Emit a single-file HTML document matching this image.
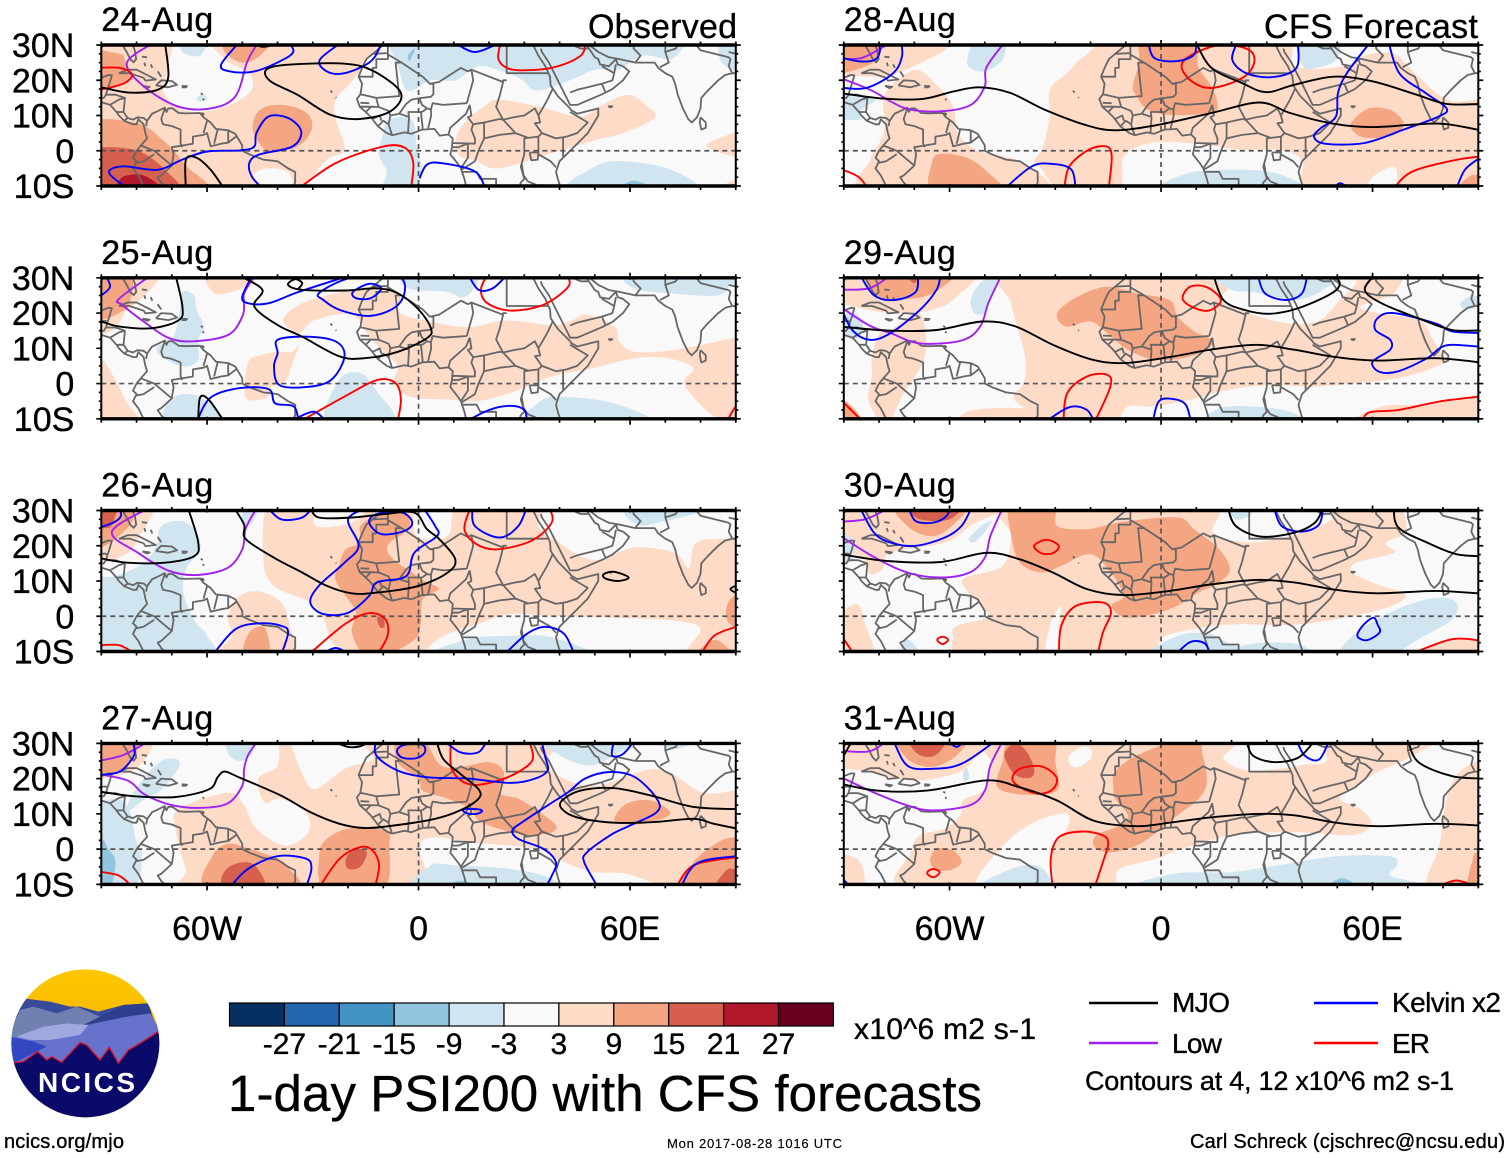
<!DOCTYPE html>
<html lang="en">
<head>
<meta charset="utf-8">
<title>1-day PSI200 with CFS forecasts</title>
<style>
html,body{margin:0;padding:0;background:#fff;}
svg{display:block;font-family:"Liberation Sans",Arial,sans-serif;}
text{stroke:#000;stroke-width:.35px;}
</style>
</head>
<body>
<svg id="chart" xmlns="http://www.w3.org/2000/svg" width="1510" height="1158" viewBox="0 0 1510 1158">
<defs>
<linearGradient id="sky" x1="0" y1="0" x2="0" y2="1"><stop offset="0" stop-color="#ffc800"/><stop offset="1" stop-color="#e8a000"/></linearGradient>
<clipPath id="logo-clip"><circle cx="256" cy="250" r="222"/></clipPath>
</defs>
<g id="panels"></g>

<text x="737" y="38" font-size="34" text-anchor="end" textLength="149">Observed</text>
<text x="1478" y="38" font-size="34" text-anchor="end" textLength="214">CFS Forecast</text>

<g id="colorbar"></g>
<text x="854" y="1039" font-size="30" textLength="182">x10^6 m2 s-1</text>

<text x="228" y="1111" font-size="51" textLength="754">1-day PSI200 with CFS forecasts</text>

<g>
<line x1="1089" y1="1003" x2="1158" y2="1003" stroke="#000" stroke-width="2.4"/>
<text x="1172" y="1012" font-size="28" textLength="58">MJO</text>
<line x1="1314" y1="1003" x2="1378" y2="1003" stroke="#0000ff" stroke-width="2.4"/>
<text x="1392" y="1012" font-size="28" textLength="109">Kelvin x2</text>
<line x1="1089" y1="1043" x2="1158" y2="1043" stroke="#a020f0" stroke-width="2.4"/>
<text x="1172" y="1053" font-size="28" textLength="50">Low</text>
<line x1="1314" y1="1043" x2="1378" y2="1043" stroke="#ff0000" stroke-width="2.4"/>
<text x="1392" y="1053" font-size="28" textLength="38">ER</text>
<text x="1085" y="1090" font-size="27" textLength="369">Contours at 4, 12 x10^6 m2 s-1</text>
</g>

<g transform="translate(0,960) scale(0.33333)">
<g clip-path="url(#logo-clip)">
<rect x="30" y="25" width="450" height="450" fill="url(#sky)"/>
<polygon fill="#3a4a9a" points="70,115 150,125 210,140 240,140 295,155 370,135 440,130 480,220 30,220"/>
<rect x="30" y="205" width="450" height="120" fill="#6672cc"/>
<polygon fill="#7080b0" points="30,235 30,215 60,150 100,140 170,160 230,140 300,170 260,195 200,190 130,200 50,230"/>
<polygon fill="#2f3f90" points="250,195 310,165 370,135 445,130 455,160 330,185"/>
<polygon fill="#6672cc" points="260,195 380,170 450,160 480,210 480,310 50,310 140,260 230,235"/>
<polygon fill="#a0a8e0" points="50,230 130,200 200,190 265,195 240,225 150,240 90,240"/>
<polygon fill="#3348c0" points="30,230 100,245 140,260 60,300 30,315"/>
<polygon fill="#0a0a6a" stroke="#e0102a" stroke-width="4" points="30,310 70,305 113,275 140,300 155,290 185,307 240,248 260,255 300,300 328,262 355,310 385,270 420,250 490,205 490,490 30,490"/>
</g>
</g>
<text x="38" y="1092" font-size="28" font-weight="700" fill="#fff" style="stroke:none" textLength="97">NCICS</text>

<text x="4" y="1148" font-size="20" textLength="120">ncics.org/mjo</text>
<text x="667" y="1148" font-size="13" textLength="175" style="stroke-width:.15px">Mon 2017-08-28 1016 UTC</text>
<text x="1190" y="1148" font-size="20" textLength="315">Carl Schreck (cjschrec@ncsu.edu)</text>
</svg>

<script>
/* Panel dates */
const panelDates = ['24-Aug','25-Aug','26-Aug','27-Aug','28-Aug','29-Aug','30-Aug','31-Aug'];

/* Axis ticks */
const lonMajorTicks = [-60, 0, 60];
const lonMajorLabels = ['60W', '0', '60E'];
const lonMinorTicks = [-90,-80,-70,-50,-40,-30,-20,-10,10,20,30,40,50,70,80,90];
const latMajorTicks = [30, 20, 10, 0, -10];
const latMajorLabels = ['30N', '20N', '10N', '0', '10S'];
const latMinorTicks = [27.5,25,22.5,17.5,15,12.5,7.5,5,2.5,-2.5,-5,-7.5];

/* Colour bar */
const colorbarColors = ['#053061','#2166ac','#4393c3','#92c5de','#d1e5f0','#f9f9f9','#fddbc7','#f4a582','#d6604d','#b2182b','#67001f'];
const colorbarLabels = ['-27','-21','-15','-9','-3','3','9','15','21','27'];

/* Base map, [lon, lat] */
const coastlines = [
 [[-97,28],[-94,29.5],[-90,29.2],[-89,30.3],[-86,30.4],[-84,30],[-82.8,28],[-81.8,26],[-80.8,25.1],[-80.1,26],[-80.5,28.5],[-81.3,30.5]],
 [[-92,18.6],[-90.5,20.5],[-88,21.5],[-87,21.4],[-87.7,19],[-88.2,17.5],[-88.7,15.9],[-86,15.9],[-83.3,15],[-83.6,12],[-83.7,11],[-82.5,9.3],[-81,8.8],[-79.8,9.5],[-78,9.3],[-77,8.5],[-75.6,10.5],[-74.5,11],[-72,12.2],[-71.5,11],[-71,12],[-69.8,12],[-68,10.7],[-66,10.6],[-62,10.7],[-61,9.5],[-59,8],[-57.5,6.2],[-54,5.8],[-52,4.8],[-50,1.5],[-50,0],[-48,-1],[-44,-2.5],[-40,-3],[-37,-5],[-35,-6],[-35,-9],[-36,-11]],
 [[-92,14.5],[-90,13.8],[-87.5,13],[-85.7,11],[-85,10],[-83.5,8.5],[-81,7.5],[-80,7.5],[-79.5,8.9],[-78,7.5],[-77.5,5],[-77,3.5],[-78.8,1.5],[-80,0],[-81,-2],[-80,-3],[-81,-5],[-79.5,-7],[-78,-10],[-77,-12]],
 [[-85,22],[-82.5,23],[-80,23],[-77,21.5],[-74.5,20.2],[-77.5,19.9],[-78,20.7],[-82,22],[-85,22]],
 [[-74.5,18.5],[-73,20],[-70,19.8],[-68.5,18.7],[-71,18],[-74.5,18.5]],
 [[-78.3,18.4],[-76.3,18.1],[-77,17.8],[-78.3,18.4]],
 [[-67.2,18.4],[-65.7,18.3],[-66,18],[-67.2,18]],
 [[-78.5,26.7],[-77,26.5]],[[-77.8,25],[-77.5,24]],[[-76,24.5],[-75.5,23.5]],[[-74,22.5],[-73,21]],
 [[-61.8,16.3],[-61.2,16]],[[-61.2,14.8],[-60.9,14.3]],[[-61.7,10.7],[-61,10.5],[-61,10]],
 [[-10,30],[-13,27.5],[-14.8,26],[-16,23.5],[-17,21],[-16,19],[-16.5,16],[-17.5,14.7],[-16.7,12.5],[-15,11],[-13.5,9.5],[-11.5,6.9],[-9,5],[-7.5,4.4],[-4,5.2],[-2,4.8],[1,6],[4.5,6.2],[6,4.3],[8.5,4.6],[9.7,3.5],[9.5,1],[9,-1],[11,-3.5],[12,-5],[13,-8],[13.5,-10],[14,-12]],
 [[-25,17],[-24.5,16.5]],[[-23.5,15.2],[-23.3,15]],
 [[32.5,31],[32.5,30],[34,27],[36,24],[37.3,21],[37.5,18.5],[39.5,15.5],[43,12],[43.3,11.5],[45,10.5],[51,12],[51,10],[48,5],[45,2],[42,-1],[40,-3],[39,-6],[39.5,-8],[40.5,-11]],
 [[34.7,29],[35,28],[37,25],[39,21],[41,17],[43,13],[45,13],[52,16],[55,17.5],[58,20],[59.8,22.5],[58,24],[56.5,24.5],[56,26],[54,24],[51.5,24.5],[51,26],[50,26.5],[48,29.5],[48.5,30]],
 [[48.5,30],[51,28],[54,26.5],[57,26],[61.5,25],[67,25],[68,23.5],[70,22],[72,21],[72.8,19],[73.5,16],[75,12],[76.5,9],[77.5,8],[79,9.5],[80,12],[80.2,15],[82,17],[85,20],[87,21.5],[89,22],[92,22]],
 [[80,9.5],[81.5,8],[81.5,6.5],[80.2,6],[79.8,8],[80,9.5]],
 [[53.8,12.6],[55,12.6],[54.5,12.3],[53.8,12.6]],
 [[31.5,-.5],[34,-.5],[33.8,-2.5],[32,-2.7],[31.5,-.5]],
 [[29.2,-3.5],[29.8,-7],[31,-8.7]],
 [[34.5,-9.5],[34.8,-12]]
];
const borders = [
 [[-92,18],[-91,17.5],[-89,17.8],[-88.2,17.5]],[[-92,14.5],[-89.3,15],[-88.7,15.9]],[[-87.5,13],[-85,14.5],[-83.3,15]],[[-85.7,11],[-83.7,11]],[[-83.5,8.5],[-82.5,9.3]],
 [[-72,12],[-73,9],[-72.5,7.5],[-70,7],[-67.5,6],[-67.5,2],[-67,1]],
 [[-77,8.5],[-77.3,7]],
 [[-51.5,4.2],[-54,2.3],[-56,2],[-59,1.3],[-60,5],[-61,4.5],[-64,4],[-64,2],[-67,1.5],[-70,1],[-69.5,-1],[-70,-4.2],[-73,-7],[-74,-7.5],[-73,-9],[-72,-10],[-69,-11]],
 [[-60,8.5],[-61,5]],[[-57,6],[-58,2]],[[-54,5.8],[-54,2.3]],
 [[-78.8,1.5],[-75,0],[-70,-4.2]],[[-80,-3.4],[-78,-3],[-75,-1]],
 [[-17,21],[-13,21],[-13,23.5],[-12,23.5],[-12,26],[-8.7,26],[-8.7,27.3],[-4.8,25],[-6.5,25],[-5.5,15.5],[-12,15],[-16.5,16]],
 [[-13,27.5],[-8.7,27.7],[-8.7,29.5]],
 [[-4.8,25],[1.2,21],[3.2,19],[4.2,19],[4.2,16],[3.5,15.3],[1,15],[.2,14.9],[-2,14.5],[-3.5,13.3],[-5.5,10.5],[-8,10],[-8.5,11.3],[-11.3,12.4],[-12,14.8]],
 [[3.2,19],[5.8,19.5],[12,23.5],[14,22.5],[15,23],[15.5,20],[13.7,13.5]],
 [[3.5,11.7],[4,13.5],[7,13],[13.7,13.5]],
 [[2.7,6.3],[3.6,10],[3.5,11.7],[2.4,12],[1,11]],[[1.2,6],[.7,10.9]],[[-3,5],[-2.7,9.5],[-2.9,11],[1,11]],
 [[-5.5,10.5],[-3,9.7]],[[.2,14.9],[1,13],[2.4,12]],
 [[-7.5,4.4],[-8.5,7.5],[-8,10]],[[-11.5,6.9],[-10,8.5],[-8.5,7.5]],[[-13,9],[-11,10],[-10.5,8.5]],[[-15,11],[-13.5,12.5],[-11.3,12.4]],[[-16.7,12.5],[-13.5,12.5]],[[-16.5,13.6],[-14,13.5]],
 [[8.5,4.6],[9,6.5],[13.5,10.5],[14.5,13]],[[14.5,13],[15,10],[14,9.5],[15.5,7.5],[18.6,8],[23,9],[24,8.8]],
 [[24,19.5],[23,15.5],[22,12.5],[22.8,11],[24,8.8]],[[25,31],[25,22],[37,22]],[[15,23],[24,19.5],[24,20],[25,20]],
 [[24,8.8],[27,9.5],[30,10],[33,12],[34,10]],[[36.5,14.3],[34,10],[34.5,8],[33,7.8],[35,5]],[[36.5,14.3],[38,17.5]],
 [[43,11],[48,8],[45,5],[42,4],[39,3.5],[35,5]],[[41,-1.7],[41,4]],[[34,4],[34,1],[34,-1],[37.5,-3],[39,-4.7]],[[35,5],[34,4]],
 [[30,-1],[30,3.5],[34,4]],[[24,8.8],[27.5,5],[31,3.7],[30,3.5]],[[18.6,8],[18.6,3.5],[23,4.5],[27.5,5]],
 [[9.7,2.2],[16,2],[16,3.5],[15,6],[15.5,7.5]],[[9.5,1],[11.3,1],[14,2],[14,-2],[12,-5]],
 [[18.6,3.5],[17,0],[16,-3],[12,-5.5]],[[12.5,-6],[16.5,-6],[17.5,-8],[22,-8],[22,-11]],
 [[30,-1],[29,-4.5],[30,-8],[29,-9],[28,-12]],[[22,-11],[28,-12]],[[31,-8.7],[33,-9.5],[35,-11]],[[40.5,-10.7],[35,-11]],
 [[43,16.5],[45,17.3],[52,19],[55,20],[55.5,22],[52,24]],[[52,19],[53,16.6]],[[39,32],[46,29],[48,29]],[[56,24.5],[55.5,22]],
 [[61,31],[61,29],[63,27],[61.5,25]],[[70,30],[70,28],[71,25],[68.5,23.7]],[[74,31],[73,29],[70,28]],
 [[78,31],[80,28.5],[88,26.5],[88.5,26],[88,24],[89,22]],[[88,28],[92,27]]
];

/* Shaded PSI200 regions: [level, [[lon,lat],...]] */
const aug24Shade = [
 [6,[[-95,32],[-72,32],[-71,24],[-72.5,17],[-67,11.6],[-57.5,11.6],[-48,16.4],[-48,22],[-55,26],[-55.5,32],[-15,32],[-16,24],[-19.5,19],[-23.5,14.5],[-23.5,9],[-21,.3],[-26,-2.5],[-34,-11],[-37,-6],[-43,-5],[-47,-7],[-49,-12],[-95,-12]]],
 [6,[[10.5,3],[13,7.9],[18.6,12.6],[22.7,14.5],[33.6,12.6],[45.8,9.7],[51.3,12.6],[59.4,15.9],[64.9,12.6],[67,9.3],[58,5],[50,3],[37.7,-.7],[22.7,-5],[16,-2.6],[11.8,-1.6]]],
 [6,[[82,2],[91,5.5],[96,5],[96,-2],[91,-2],[84,0]]],
 [6,[[86,-11],[88,-9],[91,-8],[96,-8],[96,-12]]],
 [12,[[-47,6],[-45,11.6],[-38.5,13],[-31.7,10.7],[-30.3,6],[-34.4,1.2],[-42.6,-.2]]],
 [12,[[-54,32],[-55,28],[-50,25],[-45,27],[-42,32]]],
 [12,[[-95,28],[-85,27.5],[-83.4,26],[-82,21],[-87.5,18],[-95,18]]],
 [12,[[-95,7],[-80.6,8],[-72.5,3],[-65.7,-4.5],[-61.6,-11],[-95,-12]]],
 [18,[[-95,-.5],[-80.6,.3],[-71,-6.3],[-69.8,-11],[-95,-12]]],
 [24,[[-84,-7.5],[-78,-7],[-73.5,-11],[-85,-11.5]]],
 [-6,[[-10,32],[-8.6,30],[-5.9,24],[-3,17],[3.7,20],[10.5,20],[17,24],[25.4,22],[29.5,20],[33.6,17],[43,20],[50,23],[56.7,23],[63.5,27],[71.7,26],[75.8,30],[80,32]]],
 [-6,[[85,32],[85,31],[86,25],[92,22],[96,22],[96,32]]],
 [-6,[[-8.6,8.8],[-2,8.8],[-.5,1],[1,-6],[-2,-11],[-10,-11],[-9,-6],[-11.3,-1],[-10,5]]],
 [-6,[[43,-11.5],[50,-4.5],[58,-3],[71.7,-5.4],[78,-11.5]]],
 [-12,[[56.7,-11.5],[61,-8.5],[67.6,-11.5]]],
 [-6,[[-67,32],[-67,28],[-62,27],[-60,32]]],
 [-6,[[-63,15],[-61,16],[-60,14.5],[-62,14]]],
 [-12,[[-3,27],[-1,29],[-2.5,25.5]]]
];
const aug24Mjo = [
 [[-72,31],[-71,21],[-74,17.3],[-82,16.5],[-90,18],[-92,18.5]],
 [[-43.2,23],[-37,24.4],[-21,24.7],[-12.6,22.5],[-5,16.4],[-8,11.2],[-16.7,9],[-25,10.2],[-34.4,15.9],[-42,19.7],[-43.2,23]],
 [[-66,-11],[-66,-2.5],[-63,-2],[-59,-5.4],[-55,-11]],
 [[-47,30.5],[-44,29.5],[-39,30.5]]
];
const aug24Kelvin = [
 [[-82,-11],[-87,-7.3],[-87.5,-5.4],[-83.4,-4.4],[-74,-5.4],[-67,-2.5],[-60,-.2],[-50.7,.1],[-46.6,1.2],[-46,5],[-42.6,9.7],[-37,9.3],[-33.3,5.5],[-35.8,1.2],[-45.3,-1.1],[-48,-3.5],[-47.3,-7.3],[-44,-11]],
 [[-50.7,31],[-56,24.4],[-53.5,22.5],[-46.6,22.5],[-38.5,25.8],[-35.5,28.2],[-37,31]],
 [[-21.5,31],[-28,25.8],[-26,22.5],[-21,22],[-14,25],[-11.3,28.7],[-11,31]],
 [[10.5,30.5],[16,28],[22.7,30.5]],
 [[.3,-7.8],[2.3,-4],[6.4,-3.5],[16,-5.9],[19,-11]]
];
const aug24Low = [
 [[-74.5,31],[-82.7,25],[-78,18.3],[-68.4,12.6],[-59,12],[-52,15.4],[-48.7,25],[-46.6,29],[-45,31]]
];
const aug24Er = [
 [[-92,23.5],[-84.7,23.5],[-81.3,21.6],[-83.4,19.2],[-88,17.8],[-92,17]],
 [[-34.4,-11],[-23.5,-3.5],[-10,1.2],[-3.8,.8],[-1.5,-3.5],[-2.2,-11]],
 [[23.4,31],[22.7,25.8],[26.8,23],[37.7,23.5],[45.8,26.8],[47.5,31]]
];

const aug25Shade = [
 [6,[[-95,32],[-74,32],[-78,24.7],[-82.6,21],[-87,15],[-95,15]]],
 [12,[[-95,32],[-82,32],[-82,22.8],[-85,20],[-90,18],[-95,17]]],
 [6,[[-60,31.5],[-58,25.6],[-53,26],[-48,28],[-46,31.5]]],
 [6,[[-38.4,18],[-33,22.8],[-18.9,26.6],[-9.4,27.5],[-5.3,24.7],[-5.3,20],[3.5,17.6],[14,16],[24.8,17.9],[37.8,16.6],[43.7,18],[47.8,19.5],[55.5,16.2],[57,12],[61.4,9],[73,9.6],[90,13],[96,13],[96,-11],[85,-10],[75.5,-.4],[78,4.4],[70.8,7.2],[61.4,7.2],[49.6,4.4],[37.8,2],[26,-2.7],[16.5,-5],[9.4,-4.6],[-2.4,-3.7],[-7,.1],[-5.9,4.8],[-9.4,8.6],[-14,13.3],[-18.9,19.5],[-29.5,18],[-34,14.3]]],
 [6,[[-49,-4],[-48.4,5.8],[-44.8,8],[-40,9],[-36,9],[-34,11],[-36,5],[-38,.5],[-42,-1],[-43,-4]]],
 [6,[[-95,8],[-90,7],[-86,1],[-83,-5],[-80,-11],[-95,-11]]],
 [-6,[[-67,26],[-63.7,25],[-63,21],[-60.8,16],[-62.5,12.4],[-62.5,6.7],[-66.7,4.8],[-73,7.7],[-74,10.5],[-69.6,13.3],[-67.9,20]]],
 [-6,[[-4,31.5],[-3,27],[8,26],[12,24.5],[15,26],[16,31.5]]],
 [-6,[[61,31.5],[61,27],[73,25.5],[85,25],[89,28],[92,25],[96,25],[96,31.5]]],
 [-6,[[-71.5,-11],[-70,-4],[-62,-3.7],[-56,-11]]],
 [-6,[[-26,-11],[-22.5,1],[-16.5,3],[-12,-2],[-7,-11]]],
 [-6,[[32,-11],[34,-5.5],[40,-3.7],[55.5,-5.6],[65,-11]]]
];
const aug25Mjo = [
 [[-69,31],[-67,21.9],[-68,18],[-75.5,15.7],[-85,16.2],[-90,17.6],[-92,18]],
 [[-50.7,30.5],[-44.3,26.6],[-46.6,21.9],[-40,16.6],[-33,13.3],[-22.4,7.7],[-15.3,7.2],[-5.9,9],[2.4,12.9],[3.5,15.7],[0,21],[-5.9,25.6],[-11.8,27],[-21,26.4],[-33,26.6],[-37,28],[-35,29.6],[-33,28.5],[-34,27]],
 [[-62.5,-11],[-62,-4],[-59.5,-4.6],[-55,-11]]
];
const aug25Kelvin = [
 [[-89,31],[-87.5,27.5],[-90,25]],
 [[-47,31],[-50,24.7],[-48.4,22.8],[-42.5,22.8],[-34,26],[-20,30.5]],
 [[-28.3,25.6],[-21,29.5],[-12,31],[-5,30],[-4,25.6],[-7,21.4],[-14,19.2],[-22.4,20.9],[-27,23.7],[-28.3,25.6]],
 [[-18.6,26],[-14,28.3],[-10.6,27],[-13.6,24.2],[-17.7,24.2],[-18.6,26]],
 [[-40,12.4],[-32,13.3],[-23.6,12],[-21,7.7],[-24.8,1],[-32,-1],[-39.5,-.4],[-41,4.8],[-40,8.6],[-40,12.4]],
 [[-63,-11],[-59,-4],[-50.7,-1.3],[-42.5,-1.6],[-40.7,-5.6],[-35.4,-6.5],[-34,-11]],
 [[-34,-9.5],[-29.5,-8],[-26,-11]],
 [[14,31],[17,26.6],[21,27],[24.8,30.5]],
 [[13,-11],[20,-7.5],[26,-6.3],[30,-7.5],[30.7,-11]]
];
const aug25Low = [
 [[-75.5,31],[-85,24],[-84,22.3],[-78,17.6],[-70.8,12.9],[-63.7,12],[-54,13.8],[-50,19],[-49.5,22.8],[-49.5,25.6],[-46.6,30.5]]
];
const aug25Er = [
 [[-34,-11],[-21,-3.7],[-11.8,1],[-6.5,.1],[-5,-4.6],[-6,-11]],
 [[19.5,31],[17.7,26.6],[19.5,22.8],[26,20.7],[35.4,22.3],[42.5,27.5],[42,31]],
 [[92,-5.5],[90,-6.5],[87.3,-11]]
];

const aug26Shade = [
 [6,[[-42.5,32],[-30.7,32],[-29,25.6],[-19,26.6],[-12,31.5],[-2.4,31.5],[-.6,22.8],[8.3,22.8],[12,32],[34,32],[34,25.6],[39,21.4],[49.6,16],[61.4,19.5],[72.6,18],[76.7,13.8],[79,21],[90,21.9],[96,22],[96,-11],[76.7,-11],[80,-3.7],[73,-1.3],[55.5,-.4],[37.8,.1],[26,.6],[16.5,-2.3],[7,-5.6],[-1.2,-11],[-15,-11.5],[-24,-8],[-27,-.4],[-30.7,3.9],[-41,8.6],[-44,16]]],
 [6,[[-95,32],[-76,32],[-79,23],[-84,17],[-95,16]]],
 [6,[[-54,0],[-50.7,5.8],[-45,7],[-39,3.9],[-36.6,-2.7],[-36.6,-11],[-56.6,-11.5],[-53,-5.6]]],
 [12,[[-22.4,15],[-20.6,19],[-16.5,21],[-16.5,25.6],[-11.8,28.5],[-5,30.5],[-2.4,26.6],[-4,23.7],[-7.5,21.5],[-9,19],[-7,16],[-2,12.5],[2.4,9.6],[5.7,7.7],[1.2,4.8],[.6,-1.8],[-1,-6.5],[-9.4,-11],[-15.3,-11],[-18.9,-4.6],[-17.7,1],[-20,4.8],[-23.6,10.4]]],
 [12,[[90,6],[87.5,3],[87.5,-1],[90,-3],[96,-3],[96,6]]],
 [12,[[79,-11],[83,-7],[86,-7.5],[88.5,-11]]],
 [12,[[-49.5,-11],[-48,-4.6],[-43.7,-3.2],[-42.5,-11]]],
 [12,[[-95,32],[-82,32],[-81,27.5],[-84,23.7],[-89,20],[-95,19]]],
 [18,[[-95,32],[-86,32],[-87,26],[-89,25],[-95,25]]],
 [18,[[-11.8,-.3],[-10,-.5],[-9.7,-3],[-11,-3]]],
 [-6,[[-67,27],[-63,23.7],[-62,19],[-66,13.3],[-66.7,6.7],[-63.7,-1],[-60,-5.6],[-60,-11.5],[-95,-11.5],[-95,9],[-86,11.4],[-78,15],[-74.4,20],[-73,25.6]]],
 [-6,[[-49.5,31.5],[-45.8,30],[-48,25.6],[-50,27.5]]],
 [-6,[[59,31.5],[62,26],[70,27],[81,30],[81,32]]],
 [-6,[[4.7,-11.5],[14,-6.5],[26,-5.6],[37.8,-6],[48,-11.5]]]
];
const aug26Mjo = [
 [[-65.5,31],[-62.5,21],[-63.7,17],[-72,15.2],[-82.6,15.2],[-90,16.4],[-92,17]],
 [[-52.5,31],[-49.5,26],[-49,21.9],[-41,16.6],[-33,12.4],[-26,8.6],[-19,6.5],[-11.8,6.7],[0,8.6],[8.3,12.4],[10.4,16.2],[5.9,21.9],[2.4,24.7],[-1.2,29.4],[-9.4,29],[-19,28],[-28.3,28],[-30.7,31]],
 [[52.5,11.9],[55.5,12.6],[59.6,11],[56.6,10],[53,10.7],[52.5,11.9]],
 [[92,8.8],[90,8.6],[88.5,7.7],[90,6.7],[92,6.5]]
];
const aug26Kelvin = [
 [[-91,25],[-86.5,26.6],[-84.4,28.5],[-85,31]],
 [[-43,31],[-39,27.5],[-33,28],[-30,31]],
 [[-14,26.6],[-11.8,29],[-4.7,29.4],[-1.8,26.6],[-4,24.2],[-10.6,23.3],[-14,26.6]],
 [[-14,31],[-20,27.5],[-17,20],[-21,15.2],[-28.3,8.6],[-30.7,3.9],[-27,.6],[-20,1],[-14,5.8],[-11.8,9.6],[-3.5,11.4],[-1.2,18],[5.3,22.8],[4.7,25.6],[1.2,31]],
 [[-58.4,-11],[-52,-3.7],[-45,-2],[-39,-2.7],[-37,-4.6],[-39,-11]],
 [[-27,-10.5],[-23.5,-9],[-20,-10.5]],
 [[15.3,31],[16,25.6],[23,22.3],[28.3,25.6],[30.7,31]],
 [[24.2,-11],[30.7,-5],[36,-3],[41.3,-5],[44.3,-11]]
];
const aug26Low = [
 [[-76,31],[-87,24],[-79.6,18],[-70.8,12.9],[-62.5,11.7],[-54,13.8],[-50,19],[-49,25],[-46,30.5]]
];
const aug26Er = [
 [[-92,-8.4],[-85,-8.2],[-80,-11]],
 [[-31.3,-11],[-21,-2.3],[-14,.9],[-9.4,-.9],[-8.8,-5.6],[-11.8,-11]],
 [[14.8,31],[13,24.7],[16.5,20.4],[22.4,19],[32,21.4],[37.8,26.6],[37,31]],
 [[80,-11],[83.8,-5.6],[90,-3],[92,-2.5]]
];

const aug27Shade = [
 [6,[[-68,11.4],[-54,16],[-49.5,12.4],[-46,5.8],[-37.8,1],[-31.3,4.8],[-32,10.5],[-39,14.3],[-43.7,13.3],[-45.4,20],[-40,23.7],[-39.5,31.5],[-37,31.5],[-33.6,22.8],[-29.5,17],[-21,22.8],[-13,25.6],[-11.8,31.5],[36.6,31.5],[36,24.7],[41.3,20],[50.7,18],[64,22.3],[71,21.9],[80.7,16],[90,16.6],[96,16],[96,-11.5],[73,-11],[59,-7],[49.6,-6.5],[41.3,-3.7],[33,.1],[14,2],[4.7,3.4],[0,1],[-3,-11.5],[-63,-11.5],[-66,-5.6],[-69,5.8]]],
 [6,[[-95,32],[-76,32],[-80,23],[-90,19.9],[-95,19]]],
 [12,[[-95,32],[-80,32],[-81,26],[-85,22],[-95,22]]],
 [12,[[-6,31.5],[1,31.5],[6,24],[11.8,23.3],[20,24.7],[24.2,21.9],[23,16],[28.3,14.3],[33,11.4],[39,6.7],[36.6,4.4],[28.3,4.4],[17.7,7.7],[14.8,11.4],[8.3,14.3],[1.2,16.6],[0,20],[-6,24.7]]],
 [12,[[55.5,8.6],[59,12.9],[66,13.8],[71.4,10],[63.7,7.2],[57.8,7.2]]],
 [12,[[-28.3,-3.7],[-27,2],[-20,5.8],[-9.4,5.3],[-8.3,1],[-10,-11],[-26,-11],[-28.3,-8]]],
 [12,[[-60,-11],[-58.4,-1.8],[-54,1.5],[-48,.1],[-40,-2.7],[-36.6,-5.6],[-35,-11]]],
 [12,[[75.5,-11],[78,-3.7],[85,2],[90,3.4],[96,3],[96,-11]]],
 [18,[[-20.6,-2.7],[-18,.1],[-14.7,-.9],[-16.5,-5],[-20,-5.6]]],
 [18,[[-56,-8.4],[-53,-4.6],[-47,-4.2],[-43.7,-11],[-54,-11.5]]],
 [18,[[84.8,-11],[87.3,-6],[90,-5.6],[96,-5],[96,-11]]],
 [-6,[[-54.3,31.5],[-53.7,26.6],[-50,25],[-47,27.5],[-46.5,31.5]]],
 [-6,[[-82,14],[-78,20],[-73,25],[-68.5,25.5],[-68.2,22.8],[-73,16.8],[-78,14],[-82,11]]],
 [-6,[[-90,14],[-83,13],[-80,2],[-78.5,-1],[-81,-11],[-95,-11.5],[-95,14]]],
 [-12,[[-90,3],[-88,.1],[-86,-3.7],[-88,-11.5],[-95,-11.5],[-95,3]]],
 [-6,[[36,31.5],[40,26.6],[48.4,23.7],[55.5,26.6],[61.4,31.5]]],
 [-6,[[64,31.5],[73,28.5],[79,31.5]]],
 [-6,[[0,-11.5],[3.5,-4.6],[10.6,-4.6],[26,-5.6],[36.6,-8],[37.8,-11.5]]],
 [-12,[[7,-11.5],[11.8,-9],[19,-11.5]]]
];
const aug27Mjo = [
 [[-92,16],[-90,16.2],[-80.6,15],[-68.8,14.8],[-59.4,17],[-57,20.4],[-55,22],[-51,20.4],[-39,15.2],[-30.7,10.5],[-22.4,7.2],[-15.3,6],[-7,6.7],[4.7,8.6],[11.8,11],[17,14.3],[17,17],[11.8,21.4],[7,25.6],[5,31]],
 [[-24,30.5],[-20,29],[-16.5,29.2],[-14,30.5]],
 [[92,11.3],[78,12],[66,15.2],[55.5,17.3],[46,16.6],[40.7,13.8],[40.7,11.4],[45,9],[55.5,7.5],[67,7.7],[78,8.6],[83.8,7.2],[92,5.5]]
];
const aug27Kelvin = [
 [[-92,21],[-85,21.9],[-81,26],[-80.6,28.4],[-81,31]],
 [[-12,31],[-12,26.6],[-6,22.3],[2.4,20.4],[14,20],[26,18.8],[33,20],[36.6,22.3],[36,26],[34.8,31]],
 [[-6.1,28],[-4,29.6],[1,29.6],[1.8,27.5],[-.6,25.8],[-4.7,26],[-6.1,28]],
 [[7,31],[11.8,27.5],[17,27.5],[19.5,31]],
 [[12.7,11.3],[17,11.3],[18,10.7],[16.3,10],[13.6,10.2],[12.7,11.3]],
 [[55.5,31],[54.9,26.6],[58,27],[61.4,31]],
 [[51,-11],[47,-3.7],[47.8,-.9],[54.3,3.9],[60,6.7],[67.6,10.5],[67.6,14.3],[61.4,20.4],[54.3,21.9],[47.2,20],[42.5,16.2],[36.6,12.4],[29.5,7.7],[26.6,5.3],[28.3,2.9],[35.4,.1],[39,-3.7],[37.8,-7.5],[36,-11]],
 [[-53.7,-11],[-48.4,-5.6],[-40,-2],[-31.9,-2.7],[-30.4,-5.6],[-32,-11]],
 [[74.3,-11],[79,-4],[90,-2],[92,-2]]
];
const aug27Low = [
 [[-92,24.8],[-84,26.6],[-76.7,30.5]],
 [[-92,21.5],[-82.6,19.5],[-78,15.7],[-70.8,12.7],[-62.5,11.7],[-54.3,12.9],[-50,18],[-49.5,22.8],[-48.4,26.6],[-45.8,30.5]]
];
const aug27Er = [
 [[-92,-6.2],[-85,-7.5],[-81,-11]],
 [[-28.3,-11],[-22.4,-2.7],[-16.5,.6],[-13,-.4],[-11.2,-4.6],[-12.4,-11]],
 [[9.2,31],[9.4,22.8],[14,18.5],[21,19],[28.3,21.9],[32.4,25.6],[31.3,31]],
 [[73,-11],[78,-4.6],[90,-2.3],[92,-2]]
];

const aug28Shade = [
 [6,[[-78.7,14.5],[-76,19],[-69.5,23],[-64,19],[-59,12.6],[-57.7,5],[-51.5,-.2],[-40.3,-3],[-34,-11.5],[-83,-11.5],[-82.5,-2.6],[-78.7,5]]],
 [6,[[-95,32],[-60,32],[-60.8,29],[-66.3,25.8],[-76,21.6],[-82.5,21],[-90.5,21.6],[-95,22]]],
 [6,[[-31.6,9.7],[-31.6,17.3],[-26.7,22],[-21.7,26.8],[-10.5,32],[32.9,32],[38,24],[51.5,23.9],[57.7,27],[66,27.5],[72,22],[81,14.5],[90.5,14.5],[96,14.5],[96,-11.5],[45,-11.5],[40,-2.6],[34,.3],[23,.3],[8,2.2],[-3,2.2],[-10.5,-1.6],[-12.4,-11.5],[-28,-11.5],[-34,-5],[-36,-3],[-33.5,1.2]]],
 [0,[[58.9,-11.5],[60,-7.5],[66,-4.5],[67,-9],[66,-11.5]]],
 [12,[[-8,18.3],[-6.2,24.9],[-5,32],[9.3,32],[10.5,24],[14.3,18.3],[16,13.5],[14.3,10.7],[1.9,10.2],[-4.3,12],[-6.8,15.4]]],
 [12,[[-65,-3.5],[-62.6,-.9],[-55,-2],[-49,-6.3],[-46,-11],[-64.5,-11.5]]],
 [12,[[54,7.9],[58.9,12],[65,11.6],[68.8,7.9],[66.3,4.5],[58.9,3.6],[55,5]]],
 [12,[[-95,32],[-80.6,32],[-81,26],[-83.7,24],[-90.5,22],[-95,22]]],
 [12,[[84.3,-11.5],[87.4,-7.3],[90.5,-6.8],[96,-6],[96,-11.5]]],
 [-6,[[-55,25.8],[-52.5,31.5],[-44.6,31.5],[-45,25.8],[-50,22.5],[-54,23.4]]],
 [-6,[[-90.5,16],[-87.4,15.4],[-81,14.5],[-85,11.6],[-86,8.8],[-95,10],[-95,16]]],
 [-6,[[39,31.5],[40.3,24],[44,23.5],[49.6,25.8],[50,31.5]]],
 [-6,[[.6,-11.5],[8,-6.3],[23,-5.4],[34,-6.8],[39,-11.5]]]
];
const aug28Mjo = [
 [[-92,16.5],[-78.7,14.8],[-67.6,14.7],[-59,16.8],[-51.5,18],[-42.8,16.4],[-32.9,11.6],[-21.7,7.4],[-13,5.8],[-.6,7.4],[14.3,10.7],[27.9,13.7],[36.6,10.7],[47.7,7.9],[60,6.7],[78.7,7.7],[92,5.5]],
 [[10,30.5],[14.3,23.5],[23,19.2],[29.8,16.6],[37.8,18.7],[49,21],[60,19.7],[72.5,15.9],[81,13.3],[92,13.3]]
];
const aug28Kelvin = [
 [[-92,26.8],[-86,25.4],[-81.2,25.8],[-79.7,28.7],[-80.6,31]],
 [[-92,18],[-83.7,17.8],[-76,22],[-73.5,26.8],[-73.8,31]],
 [[-3.7,31],[-1.9,26.3],[4.3,25.4],[9.3,27.2],[10,31]],
 [[21.7,31],[20.2,25.8],[24.2,22],[31.6,20.9],[38.4,23.5],[38.8,31]],
 [[59.5,31],[52.7,22],[50.2,16.4],[49.6,9.7],[45.3,6.4],[43.4,4],[46.5,2],[57.7,2.2],[68.8,6],[78.7,9.7],[81,12],[75,16.4],[67.6,22],[64.5,31]],
 [[-44.6,-11],[-36.6,-4.4],[-30.4,-3.8],[-25.4,-5.4],[-24.2,-11]],
 [[83.7,-11],[86.2,-5.4],[90.5,-2],[92,-1.5]],
 [[49,-10.5],[50.8,-9.2],[53.3,-10.5]]
];
const aug28Low = [
 [[-92,26.3],[-85,26.3],[-77,30.5]],
 [[-92,21],[-82.5,17.3],[-72.5,12],[-62.6,11.2],[-54,13],[-50,18.3],[-49.6,23.5],[-44.6,30.5]]
];
const aug28Er = [
 [[-92,-4.8],[-86,-7.3],[-83,-11]],
 [[-27.5,-11],[-26,-4.4],[-20.5,.3],[-15.5,1.2],[-14,-1.6],[-14.9,-11]],
 [[5.8,24],[8.7,27.2],[16.7,30],[24.8,28.7],[26.4,24.9],[23,20.6],[14.3,17.8],[8.7,19.7],[5.8,24]],
 [[65.7,-11],[71.3,-5.9],[83.7,-2.6],[92,-1.5]]
];

const aug29Shade = [
 [6,[[-42.5,32],[17,32],[17,23.7],[24.8,20],[36.6,17],[45,18],[50.7,23.7],[55,28],[56.6,32],[68,32],[66,25.6],[56.6,21.9],[61.4,20],[73,18],[76.7,13.3],[80,6.7],[78,4.8],[67,1.5],[49.6,-.4],[41.3,-.9],[32,-.4],[19,-1.8],[8.3,-4.6],[-2.4,-6.5],[-9.4,-6.5],[-14,-11.5],[-28.3,-11.5],[-41.3,-5],[-39,.1],[-38.4,3.9],[-39,9.6],[-42.5,22.8]]],
 [6,[[-95,32],[-55,32],[-58,24.7],[-65,20.9],[-77,20],[-90,22.3],[-95,22]]],
 [6,[[-80,14],[-76.7,15.2],[-68.4,20],[-67,7.7],[-73,-2.7],[-78,-11.5],[-83,-5],[-82,2],[-82,8]]],
 [6,[[-56,-8.4],[-48.4,-7],[-36.6,-7.5],[-33,-11.5],[-54,-11.5]]],
 [6,[[56.6,-11.5],[62.5,-6.5],[73,-6],[85,-4.2],[90,-3.7],[96,-3],[96,-11.5]]],
 [12,[[-29.5,20],[-23.6,24.7],[-15.3,27.5],[-7,25.6],[2.4,23.7],[4.7,19],[9.4,14.8],[14.8,11.9],[9.4,8],[-1.2,6.7],[-9.4,9.6],[-15.3,14.3],[-20,17.6],[-27,16.2]]],
 [12,[[-82.6,32],[-80,24.7],[-69.6,24.2],[-62.5,27],[-59.6,32]]],
 [18,[[-72.6,31.5],[-70,28.5],[-68.6,31.5]]],
 [12,[[-90,-4.6],[-85,-11],[-95,-11.5],[-95,-4.6]]],
 [-6,[[-53,20],[-54,23.7],[-51.3,28.5],[-45.4,31.5],[-48.4,24.7],[-50,20]]],
 [-6,[[16.5,31.5],[20,26.6],[26,26],[32,24.7],[39,23.7],[46,26.6],[49.6,31.5]]],
 [-6,[[85,23],[88.5,25],[90,24],[89,21.5],[86,21]]],
 [-6,[[-95,18],[-87,20],[-84.5,16],[-86.7,12.4],[-90,13.3],[-95,13]]],
 [-6,[[13.6,-11.5],[16.5,-7],[26,-6.5],[36.6,-8],[39.5,-11.5]]]
];
const aug29Mjo = [
 [[-92,16.2],[-76.7,15],[-63.7,15.2],[-50.7,17.6],[-41.3,16.2],[-30.7,11],[-20,6.9],[-10.6,5.8],[2.4,7.5],[14,9.6],[27,11],[37.8,9.6],[49.6,7.5],[61.4,6.5],[78,7.2],[92,5.8]],
 [[14.8,31],[17.7,23.7],[23.6,20.9],[30.7,19.8],[39,21.4],[48.4,25.6],[50.7,28.5],[48.4,31]],
 [[60.8,31],[57.8,26.6],[62.5,22.8],[73,18.5],[82.6,15.2],[92,15.2]]
];
const aug29Kelvin = [
 [[-85.5,31],[-81.4,25],[-75.5,23.7],[-69.6,26],[-69,31]],
 [[-91,22],[-87.6,15.2],[-82.6,12.4],[-76.7,14.3],[-68.4,20.9],[-63.7,26.6],[-62.5,31]],
 [[27.4,31],[29.5,25.6],[35.4,23.7],[40,25.6],[41.5,31]],
 [[92,14.3],[82.6,14.8],[78,17],[66,20],[61.4,18.5],[60.8,15.2],[65,12.4],[65,9.6],[60,6.2],[61.8,3.4],[67,3.4],[75.5,7.2],[79,10],[82.6,11],[92,10.3]],
 [[-33,-11],[-26,-6.7],[-21,-7.5],[-19,-11]],
 [[-2.4,-11],[-.6,-5],[3.5,-4.4],[7,-6],[8.5,-11]]
];
const aug29Low = [
 [[-92,26.7],[-83,27],[-77,30.5]],
 [[-92,22.5],[-83,16.6],[-76.7,14.3],[-68.4,11.4],[-56.6,12.2],[-51.3,16.2],[-49,22.8],[-45.4,30.5]]
];
const aug29Er = [
 [[-92,-3.5],[-84.4,-11]],
 [[-27.7,-11],[-26.6,-2.7],[-21,2],[-15.3,2.5],[-14.4,-.9],[-18.9,-11]],
 [[6.1,24.2],[8.3,27.5],[13,27.3],[17,23.7],[13.6,20.7],[8.9,21.7],[6.1,24.2]],
 [[57.2,-11],[59,-8.2],[67.3,-7.5],[79,-5.1],[92,-3.5]]
];

const aug30Shade = [
 [6,[[-42.5,32],[12,32],[14.8,23.7],[24,21],[33,21.9],[41.3,24.2],[48.4,27.5],[49.6,32],[66,32],[69.6,24.2],[63.7,20.9],[66,18],[55.5,15.2],[54.3,12.4],[61.4,9],[68.4,6.7],[68.4,4.4],[59,1],[39,-2.3],[21,-2.3],[11.8,-3.2],[1.2,-5.6],[-8,-11.5],[-54,-11.5],[-59,-5.6],[-57.8,-2.7],[-49.6,-.4],[-50.7,2.9],[-55.5,7.7],[-55.5,11],[-45,14.3],[-42.5,22.8]]],
 [0,[[-33,-11.5],[-31.3,-1.8],[-28.3,2.9],[-29,-2.7],[-29.5,-11.5]]],
 [6,[[-95,32],[-46,32],[-54.3,25.6],[-61.4,20.9],[-76.7,18],[-79,13.3],[-82.6,12],[-84,16.2],[-90,18],[-95,18]]],
 [6,[[-90,2],[-86,3.4],[-84,-2],[-82,-11.5],[-95,-11.5],[-95,2]]],
 [6,[[70.8,-11.5],[79,-7.5],[88.5,-6.5],[90,-11.5]]],
 [12,[[-42.5,32],[-30.7,32],[-29.5,25.6],[-21,24.7],[-16.5,25.6],[-9.4,27],[4.7,28],[9.4,24.7],[16.5,19],[19.5,13.3],[16.5,9.6],[10.6,6.7],[2.4,2],[-9.4,-.4],[-14,3],[-10.6,6.2],[-16.5,15.2],[-21,17.6],[-28.3,14.3],[-34,12.4],[-40,15.2],[-42.5,22.8]]],
 [12,[[-75,32],[-72,25.6],[-65,22.7],[-59,26],[-55.5,32]]],
 [18,[[-71.5,32],[-69.6,28],[-63.7,27],[-59,28],[-57,32]]],
 [-6,[[-51,25.6],[-48,27],[-50,24],[-53,21],[-54.5,22]]],
 [-6,[[-90,23.7],[-87,20.9],[-87.6,16],[-90,15],[-95,15],[-95,23]]],
 [-6,[[19.5,31.5],[21,27.5],[25,28.5],[26,31.5]]],
 [-6,[[50.6,-11.5],[55.5,-4.6],[67,2],[78,5.3],[83.8,3.9],[82.6,-.9],[73,-6.5],[63.7,-11.5]]],
 [-6,[[-1.2,-11.5],[4.7,-5.6],[14,-5],[21,-8.4],[28.3,-7.5],[39,-8],[40,-11.5]]],
 [-6,[[-74,-11.5],[-72,-6.5],[-68,-11.5]]]
];
const aug30Mjo = [
 [[-92,17.8],[-78,15.7],[-62.5,15.4],[-49.6,18],[-40.3,16.2],[-30.7,12.4],[-21,7.7],[-10.6,6],[2.4,7.2],[14,9],[27,10.3],[37.8,9.6],[49.6,7.5],[61.4,6.5],[78,7.2],[92,6.3]],
 [[18.9,31],[21.2,25.6],[28.3,22.6],[37.8,23.7],[43.7,26.6],[46,31]],
 [[66,31],[67.3,25.2],[75.5,20.9],[83.8,17.6],[92,17]]
];
const aug30Kelvin = [
 [[-85.5,31],[-81.4,23.7],[-76.7,20.9],[-69.6,20],[-61.4,22.3],[-56.6,25.6],[-53.7,31]],
 [[-71.7,31],[-69.6,27],[-64.4,26.6],[-60.8,28.5],[-60,31]],
 [[32,31],[34.2,25.6],[40,24],[44.8,26],[46,31]],
 [[60.2,-.4],[61.4,-2.3],[62,-4.6],[58.4,-6.8],[55.7,-5.6],[57.2,-2.7],[60.2,-.4]],
 [[4,-11],[8.3,-7.3],[12.4,-7.7],[14,-11]]
];
const aug30Low = [
 [[-92,26.8],[-84,27.5],[-77.6,30.5]],
 [[-92,23.5],[-81.8,17],[-72,12.4],[-62.5,11],[-54.3,12.4],[-50,16.6],[-48.4,22.8],[-45,30.5]]
];
const aug30Er = [
 [[-92,-3.5],[-87,-11]],
 [[-36,20],[-32.5,21.7],[-29,20],[-30.7,17.9],[-34,17.9],[-36,20]],
 [[-63.5,-6.7],[-62,-5.8],[-60.4,-6.7],[-62,-7.9],[-63.5,-6.7]],
 [[-29,-11],[-28.3,-2.7],[-24.2,2.9],[-16.5,3.9],[-14.2,1],[-16.5,-4.6],[-18,-11]],
 [[70.2,-11],[82.6,-6.5],[92,-7.2]]
];

const aug31Shade = [
 [6,[[-95,32],[-45,32],[-52,26.6],[-57,22],[-68,19.5],[-77,20.4],[-85,22.3],[-90,22.8],[-95,22]]],
 [6,[[-46,32],[16.5,32],[17.7,25.6],[24.2,22.3],[33.6,22.8],[41,24],[47,25],[48.4,32],[78,32],[69.6,25.6],[61.4,21.9],[55.5,18],[50.7,14.3],[56.6,11.4],[59.6,7.2],[54.3,4],[37.8,4.8],[20,3.9],[6,.1],[-1.2,-2.7],[-11.8,-5.6],[-18.9,-11.5],[-72,-11.5],[-71,-1],[-68.4,3.9],[-61.4,5.8],[-57,9.6],[-56,14],[-50,17],[-48,24]]],
 [0,[[-52.5,-11.5],[-44.8,1],[-35.4,7.9],[-26.6,10],[-27,5.3],[-31.3,.1],[-32,-11.5]]],
 [0,[[-26,26.6],[-22.4,29],[-20,28.5],[-20,25.6],[-23.6,23.3],[-25.8,24]]],
 [6,[[90,25],[83.8,21],[80.8,13.3],[79,1],[76,-11.5],[96,-11.5],[96,25]]],
 [6,[[-90,-1.3],[-85,-4.2],[-85,-11.5],[-95,-11.5],[-95,-1]]],
 [12,[[-13,21.9],[-6,27],[9.4,32],[11.8,26.6],[13,19],[10.6,14.3],[4.7,9.6],[-1.2,4.8],[-7,1],[-14.2,-.9],[-18.9,.6],[-18.3,3.9],[-11.8,6.7],[-9.4,9.6],[-13,14.3],[-13.5,17]]],
 [12,[[-45,24.7],[-42.5,32],[-30.7,32],[-30,24.7],[-29,18],[-32,15.7],[-41.3,15.7],[-46.6,18]]],
 [12,[[-74,32],[-72,25.6],[-65,23.3],[-58,26.6],[-56,32]]],
 [12,[[-65.5,-3.2],[-63.7,.1],[-59,-.4],[-56.6,-3.7],[-60,-6],[-64,-5.6]]],
 [12,[[87.3,-11.5],[88.5,-2.7],[90,-.9],[96,-1],[96,-11.5]]],
 [18,[[-71.5,32],[-69,27],[-64,26.6],[-61,32]]],
 [18,[[-44.4,27],[-41.3,30],[-38,27.5],[-36,22.8],[-36.8,20.4],[-40,20.4],[-42.5,22.3]]],
 [-6,[[-52,-11.5],[-42.5,-5.6],[-35.4,-4.6],[-32,-7.5],[-30.7,-11.5]]],
 [-6,[[-3.5,-11.5],[3.5,-7],[20,-6.5],[33,-4.6],[49.6,-2],[65,-2],[66.9,-4.6],[65,-7.5],[73,-11.5]]],
 [-12,[[47,-11.5],[51.3,-8.2],[56.6,-11.5]]],
 [-6,[[-56,22],[-55,23],[-54.5,20],[-56,19.5]]]
];
const aug31Mjo = [
 [[-92,18.8],[-80.6,16.6],[-66.4,16.6],[-49.6,19.5],[-40.3,17.6],[-29.5,13.8],[-18.9,8],[-7,6.5],[2.4,7.5],[14,9],[27,10],[37.8,9.6],[49.6,7.5],[61.4,6.5],[78,7.2],[92,6.6]],
 [[24.2,31],[26,26.6],[32,24.7],[39,26],[43.7,31]],
 [[70,31],[73,24.7],[82.6,20.7],[92,20]],
 [[-87.5,31],[-90,26.6],[-91,25]]
];
const aug31Kelvin = [
 [[-76,31],[-72,23.7],[-65,22.8],[-56.6,24.2],[-46.6,31]],
 [[-60.4,30.5],[-58,29],[-56,30.5]],
 [[38.4,31],[40.7,26.6],[44.8,25.4],[47.8,31]],
 [[-91,-7.5],[-88,-11]]
];
const aug31Low = [
 [[-92,28],[-83,27.7],[-78,30.5]],
 [[-92,21],[-81.8,16.2],[-72,12.4],[-65,11],[-54.3,12.4],[-50,16.6],[-48.4,23.7],[-45,30.5]]
];
const aug31Er = [
 [[-42.2,20],[-40,22.8],[-34,23.5],[-29.7,20.4],[-30.7,17],[-34.8,15.7],[-40,17.6],[-42.2,20]],
 [[-30.7,-11],[-31.3,-2.7],[-29,3.4],[-22.4,5],[-16.5,3.9],[-15,1.5],[-16.5,-3.7],[-18.9,-11]],
 [[-66.3,-6.5],[-64.7,-5.6],[-62.8,-6.5],[-64.3,-7.9],[-65.8,-7.5],[-66.3,-6.5]],
 [[78,-11],[83.8,-8.9],[90,-11]]
];

const panelShades = [aug24Shade,aug25Shade,aug26Shade,aug27Shade,aug28Shade,aug29Shade,aug30Shade,aug31Shade];
const panelMjo = [aug24Mjo,aug25Mjo,aug26Mjo,aug27Mjo,aug28Mjo,aug29Mjo,aug30Mjo,aug31Mjo];
const panelKelvin = [aug24Kelvin,aug25Kelvin,aug26Kelvin,aug27Kelvin,aug28Kelvin,aug29Kelvin,aug30Kelvin,aug31Kelvin];
const panelLow = [aug24Low,aug25Low,aug26Low,aug27Low,aug28Low,aug29Low,aug30Low,aug31Low];
const panelEr = [aug24Er,aug25Er,aug26Er,aug27Er,aug28Er,aug29Er,aug30Er,aug31Er];

const SVGNS = 'http://www.w3.org/2000/svg';
const PX_PER_DEG = 3.525;
const PANEL_W = 180 * PX_PER_DEG;
const PANEL_H = 40 * PX_PER_DEG;
const COLUMN_LEFT = [101.3, 843.8];
const ROW_TOP = [45, 277.8, 510.5, 743.4];

function svgEl(tag, parent) {
  const el = document.createElementNS(SVGNS, tag);
  parent.appendChild(el);
  return el;
}
function levelColor(level) {
  if (level === 0) return '#f9f9f9';
  const idx = Math.floor((level + 33) / 6);
  return colorbarColors[Math.max(0, Math.min(colorbarColors.length - 1, idx))];
}
function smoothPath(pts, sx, sy, closed) {
  const P = pts.map(p => [sx(p[0]), sy(p[1])]);
  if (closed && P.length > 1 && P[0][0] === P[P.length - 1][0] && P[0][1] === P[P.length - 1][1]) P.pop();
  const n = P.length;
  const at = i => closed ? P[(i + n) % n] : P[Math.max(0, Math.min(n - 1, i))];
  let d = 'M' + P[0][0].toFixed(1) + ' ' + P[0][1].toFixed(1);
  const segs = closed ? n : n - 1;
  for (let i = 0; i < segs; i++) {
    const p0 = at(i - 1), p1 = at(i), p2 = at(i + 1), p3 = at(i + 2);
    const c1x = p1[0] + (p2[0] - p0[0]) / 6, c1y = p1[1] + (p2[1] - p0[1]) / 6;
    const c2x = p2[0] - (p3[0] - p1[0]) / 6, c2y = p2[1] - (p3[1] - p1[1]) / 6;
    d += 'C' + c1x.toFixed(1) + ' ' + c1y.toFixed(1) + ' ' + c2x.toFixed(1) + ' ' + c2y.toFixed(1) + ' ' + p2[0].toFixed(1) + ' ' + p2[1].toFixed(1);
  }
  return closed ? d + 'Z' : d;
}
function isClosed(pts) {
  const a = pts[0], b = pts[pts.length - 1];
  return a[0] === b[0] && a[1] === b[1];
}
function polyPath(pts, sx, sy) {
  return pts.map((p, i) => (i ? 'L' : 'M') + sx(p[0]).toFixed(1) + ' ' + sy(p[1]).toFixed(1)).join('');
}

const root = document.getElementById('panels');
const defs = document.querySelector('defs');

panelDates.forEach((date, i) => {
  const col = i < 4 ? 0 : 1;
  const row = i % 4;
  const left = COLUMN_LEFT[col];
  const top = ROW_TOP[row];
  const sx = lon => left + (lon + 90) * PX_PER_DEG;
  const sy = lat => top + (30 - lat) * PX_PER_DEG;

  const clip = svgEl('clipPath', defs);
  clip.setAttribute('id', 'panel-clip-' + i);
  const clipRect = svgEl('rect', clip);
  clipRect.setAttribute('x', left);
  clipRect.setAttribute('y', top);
  clipRect.setAttribute('width', PANEL_W);
  clipRect.setAttribute('height', PANEL_H);

  const panel = svgEl('g', root);
  
  

  const inner = svgEl('g', panel);
  inner.setAttribute('clip-path', 'url(#panel-clip-' + i + ')');
  
  

  const bg = svgEl('rect', inner);
  
  
  bg.setAttribute('x', left);
  bg.setAttribute('y', top);
  bg.setAttribute('width', PANEL_W);
  bg.setAttribute('height', PANEL_H);
  bg.setAttribute('fill', '#f9f9f9');

  panelShades[i].forEach(s => {
    const el = svgEl('path', inner);
    
    
    el.setAttribute('d', smoothPath(s[1], sx, sy, true));
    el.setAttribute('fill', levelColor(s[0]));
  });

  const mapPath = svgEl('path', inner);
  
  
  mapPath.setAttribute('d', coastlines.concat(borders).map(seg => polyPath(seg, sx, sy)).join(''));
  mapPath.setAttribute('fill', 'none');
  mapPath.setAttribute('stroke', '#666');
  mapPath.setAttribute('stroke-width', '1.8');
  mapPath.setAttribute('stroke-linejoin', 'round');

  const eqLine = svgEl('line', inner);
  
  
  eqLine.setAttribute('x1', sx(-90));
  eqLine.setAttribute('x2', sx(90));
  eqLine.setAttribute('y1', sy(0));
  eqLine.setAttribute('y2', sy(0));
  eqLine.setAttribute('stroke', '#555');
  eqLine.setAttribute('stroke-width', '1.7');
  eqLine.setAttribute('stroke-dasharray', '5 4');

  const pmLine = svgEl('line', inner);
  
  
  pmLine.setAttribute('x1', sx(0));
  pmLine.setAttribute('x2', sx(0));
  pmLine.setAttribute('y1', sy(30));
  pmLine.setAttribute('y2', sy(-10));
  pmLine.setAttribute('stroke', '#555');
  pmLine.setAttribute('stroke-width', '1.7');
  pmLine.setAttribute('stroke-dasharray', '5 4');

  const drawContours = (list, color, name) => {
    list.forEach(pts => {
      const el = svgEl('path', inner);
      
      
      el.setAttribute('d', smoothPath(pts, sx, sy, isClosed(pts)));
      el.setAttribute('fill', 'none');
      el.setAttribute('stroke', color);
      el.setAttribute('stroke-width', '1.9');
    });
  };
  drawContours(panelLow[i], '#a020f0', 'contour-low');
  drawContours(panelEr[i], '#ff0000', 'contour-er');
  drawContours(panelKelvin[i], '#0000ff', 'contour-kelvin');
  drawContours(panelMjo[i], '#000000', 'contour-mjo');

  let tickD = '';
  lonMajorTicks.forEach(v => {
    tickD += 'M' + sx(v) + ' ' + (top - 5) + 'V' + (top + 2) + 'M' + sx(v) + ' ' + (top + PANEL_H - 2) + 'V' + (top + PANEL_H + 6);
  });
  lonMinorTicks.forEach(v => {
    tickD += 'M' + sx(v) + ' ' + (top - 3.5) + 'V' + top + 'M' + sx(v) + ' ' + (top + PANEL_H) + 'V' + (top + PANEL_H + 4);
  });
  latMajorTicks.forEach(v => {
    tickD += 'M' + (left - 5) + ' ' + sy(v) + 'H' + left + 'M' + (left + PANEL_W) + ' ' + sy(v) + 'H' + (left + PANEL_W + 5);
  });
  latMinorTicks.forEach(v => {
    tickD += 'M' + (left - 2.5) + ' ' + sy(v) + 'H' + left + 'M' + (left + PANEL_W) + ' ' + sy(v) + 'H' + (left + PANEL_W + 2.5);
  });
  const ticks = svgEl('path', panel);
  
  
  ticks.setAttribute('d', tickD);
  ticks.setAttribute('stroke', '#000');
  ticks.setAttribute('stroke-width', '1.7');
  ticks.setAttribute('fill', 'none');

  const hFrame = svgEl('path', panel);
  
  
  hFrame.setAttribute('d', 'M' + (left - 1) + ' ' + top + 'H' + (left + PANEL_W + 1) + 'M' + (left - 1) + ' ' + (top + PANEL_H) + 'H' + (left + PANEL_W + 1));
  hFrame.setAttribute('stroke', '#000');
  hFrame.setAttribute('stroke-width', '3.4');

  const vFrame = svgEl('path', panel);
  
  
  vFrame.setAttribute('d', 'M' + left + ' ' + top + 'V' + (top + PANEL_H) + 'M' + (left + PANEL_W) + ' ' + top + 'V' + (top + PANEL_H));
  vFrame.setAttribute('stroke', '#000');
  vFrame.setAttribute('stroke-width', '2');

  const title = svgEl('text', panel);
  
  
  title.setAttribute('x', left);
  title.setAttribute('y', top - 14);
  title.setAttribute('font-size', '34');
  title.setAttribute('textLength', '112');
  title.textContent = date;

  if (col === 0) {
    latMajorLabels.forEach((label, k) => {
      const t = svgEl('text', panel);
      
      
      t.setAttribute('x', left - 27);
      t.setAttribute('y', sy(latMajorTicks[k]) + 12);
      t.setAttribute('font-size', '34');
      t.setAttribute('text-anchor', 'end');
      t.textContent = label;
    });
  }
  if (row === 3) {
    lonMajorLabels.forEach((label, k) => {
      const t = svgEl('text', panel);
      
      
      t.setAttribute('x', sx(lonMajorTicks[k]));
      t.setAttribute('y', 940);
      t.setAttribute('font-size', '34');
      t.setAttribute('text-anchor', 'middle');
      t.textContent = label;
    });
  }
});

const cbar = document.getElementById('colorbar');
const cbarLeft = 229.5, cbarTop = 1003, cbarCell = 54.9, cbarHeight = 23;
colorbarColors.forEach((c, i) => {
  const r = svgEl('rect', cbar);
  
  
  r.setAttribute('x', cbarLeft + i * cbarCell);
  r.setAttribute('y', cbarTop);
  r.setAttribute('width', cbarCell);
  r.setAttribute('height', cbarHeight);
  r.setAttribute('fill', c);
  r.setAttribute('stroke', '#000');
  r.setAttribute('stroke-width', '1.2');
});
colorbarLabels.forEach((label, i) => {
  const t = svgEl('text', cbar);
  
  
  t.setAttribute('x', cbarLeft + (i + 1) * cbarCell);
  t.setAttribute('y', 1054);
  t.setAttribute('font-size', '30');
  t.setAttribute('text-anchor', 'middle');
  t.textContent = label;
});
</script>
</body>
</html>
